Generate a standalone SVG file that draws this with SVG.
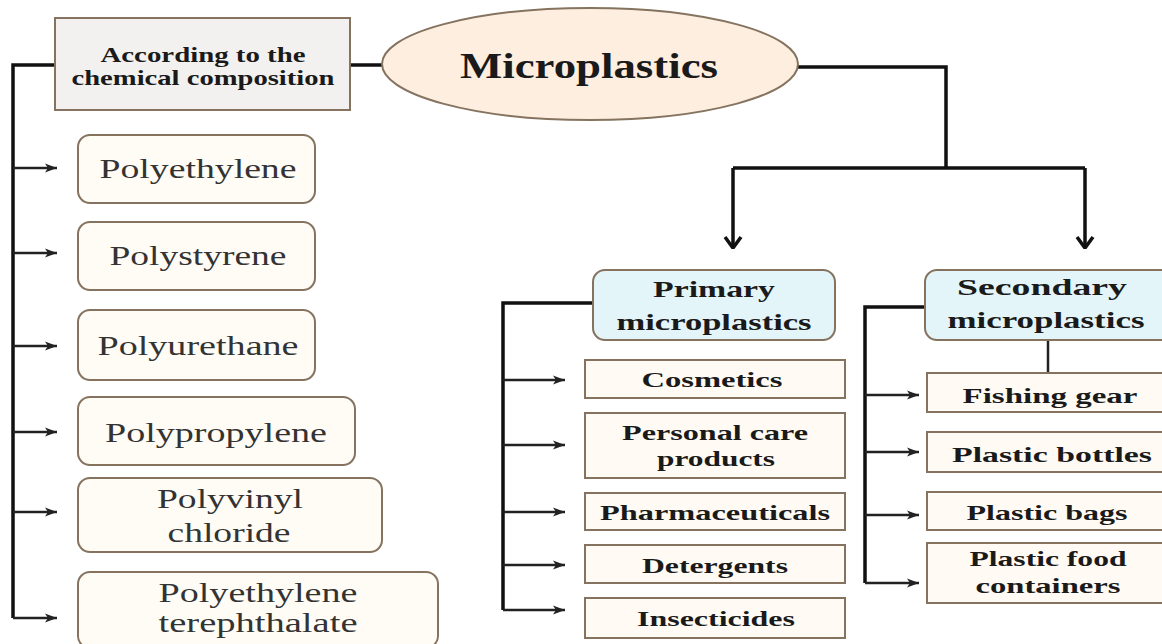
<svg xmlns="http://www.w3.org/2000/svg" width="1162" height="644" viewBox="0 0 1162 644">
<defs>
<style>
.bx{stroke:#85735f;stroke-width:2;}
.poly{fill:#fffcf6;}
.item{fill:#fffbf4;}
.hdr{fill:#e3f5f9;}
.ln{fill:none;stroke:#111;stroke-width:3.5;}
.ar{fill:none;stroke:#222;stroke-width:2.4;}
.tb{font-family:"Liberation Serif",serif;font-weight:bold;fill:#1a1a1a;text-anchor:middle;}
.tn{font-family:"Liberation Serif",serif;fill:#333;text-anchor:middle;font-size:27px;}
</style>
<marker id="ah" viewBox="0 0 12 12" refX="12" refY="6" markerWidth="12" markerHeight="12" markerUnits="userSpaceOnUse" orient="auto">
<path d="M0,1.5 L12,6 L0,10.5 L3,6 Z" fill="#222"/>
</marker>
<marker id="av" viewBox="0 0 20 20" refX="19" refY="10" markerWidth="20" markerHeight="20" markerUnits="userSpaceOnUse" orient="auto">
<path d="M8,2 L19,10 L8,18" fill="none" stroke="#111" stroke-width="3.5"/>
</marker>
</defs>
<rect width="1162" height="644" fill="#ffffff"/>

<g id="connectors">
<path class="ln" d="M55,65 H13 V618"/>
<path class="ln" d="M350,65 H382"/>
<path class="ln" d="M798,67 H946 V168"/>
<path class="ln" d="M733,168 H1085"/>
<path class="ln" d="M733,168 V248" marker-end="url(#av)"/>
<path class="ln" d="M1085,168 V248" marker-end="url(#av)"/>
<g class="ar">
<path d="M13,168 H57" marker-end="url(#ah)"/>
<path d="M13,253 H57" marker-end="url(#ah)"/>
<path d="M13,346 H57" marker-end="url(#ah)"/>
<path d="M13,432 H57" marker-end="url(#ah)"/>
<path d="M13,512 H57" marker-end="url(#ah)"/>
<path d="M13,618 H57" marker-end="url(#ah)"/>
</g>
<path class="ln" d="M593,303 H503 V610"/>
<g class="ar">
<path d="M503,380 H565" marker-end="url(#ah)"/>
<path d="M503,445 H565" marker-end="url(#ah)"/>
<path d="M503,512 H565" marker-end="url(#ah)"/>
<path d="M503,565 H565" marker-end="url(#ah)"/>
<path d="M503,610 H565" marker-end="url(#ah)"/>
</g>
<path class="ln" d="M925,307 H865 V583"/>
<path class="ar" d="M1048,340 V373" style="stroke-width:2.5"/>
<g class="ar">
<path d="M865,395 H919" marker-end="url(#ah)"/>
<path d="M865,452 H919" marker-end="url(#ah)"/>
<path d="M865,515 H919" marker-end="url(#ah)"/>
<path d="M865,583 H919" marker-end="url(#ah)"/>
</g>
</g>

<g id="n-chem">
<rect class="bx" x="55" y="18" width="295" height="92" fill="#f3f1ef"/>
<text class="tb" font-size="21" x="203" y="62" textLength="205" lengthAdjust="spacingAndGlyphs">According to the</text>
<text class="tb" font-size="21" x="203" y="85" textLength="263" lengthAdjust="spacingAndGlyphs">chemical composition</text>
</g>

<g id="n-micro">
<ellipse class="bx" cx="590" cy="64" rx="208" ry="56" fill="#fdeee0"/>
<text class="tb" font-size="36" x="589" y="78" textLength="258" lengthAdjust="spacingAndGlyphs">Microplastics</text>
</g>

<g id="n-pe">
<rect class="bx poly" x="78" y="135" width="237" height="68" rx="12"/>
<text class="tn" x="198" y="178" textLength="197" lengthAdjust="spacingAndGlyphs">Polyethylene</text>
</g>
<g id="n-ps">
<rect class="bx poly" x="78" y="222" width="237" height="68" rx="12"/>
<text class="tn" x="198" y="265" textLength="177" lengthAdjust="spacingAndGlyphs">Polystyrene</text>
</g>
<g id="n-pu">
<rect class="bx poly" x="78" y="310" width="237" height="70" rx="12"/>
<text class="tn" x="198" y="355" textLength="201" lengthAdjust="spacingAndGlyphs">Polyurethane</text>
</g>
<g id="n-pp">
<rect class="bx poly" x="78" y="397" width="277" height="68" rx="12"/>
<text class="tn" x="216" y="442" textLength="222" lengthAdjust="spacingAndGlyphs">Polypropylene</text>
</g>
<g id="n-pvc">
<rect class="bx poly" x="78" y="478" width="304" height="74" rx="12"/>
<text class="tn" x="230" y="508" textLength="146" lengthAdjust="spacingAndGlyphs">Polyvinyl</text>
<text class="tn" x="229" y="542" textLength="123" lengthAdjust="spacingAndGlyphs">chloride</text>
</g>
<g id="n-pet">
<rect class="bx poly" x="78" y="572" width="360" height="76" rx="12"/>
<text class="tn" x="258" y="602" textLength="199" lengthAdjust="spacingAndGlyphs">Polyethylene</text>
<text class="tn" x="258" y="632" textLength="199" lengthAdjust="spacingAndGlyphs">terephthalate</text>
</g>

<g id="n-primary">
<rect class="bx hdr" x="593" y="270" width="242" height="70" rx="12"/>
<text class="tb" font-size="23" x="714" y="297" textLength="122" lengthAdjust="spacingAndGlyphs">Primary</text>
<text class="tb" font-size="23" x="714" y="330" textLength="195" lengthAdjust="spacingAndGlyphs">microplastics</text>
</g>
<g id="n-cosm">
<rect class="bx item" x="585" y="360" width="260" height="38"/>
<text class="tb" font-size="21" x="712" y="387" textLength="141" lengthAdjust="spacingAndGlyphs">Cosmetics</text>
</g>
<g id="n-pcp">
<rect class="bx item" x="585" y="413" width="260" height="65"/>
<text class="tb" font-size="21" x="715" y="440" textLength="186" lengthAdjust="spacingAndGlyphs">Personal care</text>
<text class="tb" font-size="21" x="716" y="466" textLength="118" lengthAdjust="spacingAndGlyphs">products</text>
</g>
<g id="n-pharm">
<rect class="bx item" x="585" y="493" width="260" height="37"/>
<text class="tb" font-size="21" x="715" y="520" textLength="230" lengthAdjust="spacingAndGlyphs">Pharmaceuticals</text>
</g>
<g id="n-det">
<rect class="bx item" x="585" y="545" width="260" height="38"/>
<text class="tb" font-size="21" x="715" y="573" textLength="146" lengthAdjust="spacingAndGlyphs">Detergents</text>
</g>
<g id="n-insect">
<rect class="bx item" x="585" y="598" width="260" height="40"/>
<text class="tb" font-size="21" x="716" y="626" textLength="158" lengthAdjust="spacingAndGlyphs">Insecticides</text>
</g>

<g id="n-secondary">
<rect class="bx hdr" x="925" y="270" width="250" height="70" rx="12"/>
<text class="tb" font-size="23" x="1042" y="295" textLength="170" lengthAdjust="spacingAndGlyphs">Secondary</text>
<text class="tb" font-size="23" x="1046" y="328" textLength="197" lengthAdjust="spacingAndGlyphs">microplastics</text>
</g>
<g id="n-fish">
<rect class="bx item" x="927" y="373" width="250" height="39"/>
<text class="tb" font-size="21" x="1050" y="403" textLength="175" lengthAdjust="spacingAndGlyphs">Fishing gear</text>
</g>
<g id="n-bottles">
<rect class="bx item" x="927" y="432" width="250" height="40"/>
<text class="tb" font-size="21" x="1052" y="462" textLength="200" lengthAdjust="spacingAndGlyphs">Plastic bottles</text>
</g>
<g id="n-bags">
<rect class="bx item" x="927" y="492" width="250" height="38"/>
<text class="tb" font-size="21" x="1047" y="520" textLength="161" lengthAdjust="spacingAndGlyphs">Plastic bags</text>
</g>
<g id="n-food">
<rect class="bx item" x="927" y="543" width="250" height="60"/>
<text class="tb" font-size="21" x="1048" y="566" textLength="157" lengthAdjust="spacingAndGlyphs">Plastic food</text>
<text class="tb" font-size="21" x="1048" y="593" textLength="145" lengthAdjust="spacingAndGlyphs">containers</text>
</g>
</svg>
